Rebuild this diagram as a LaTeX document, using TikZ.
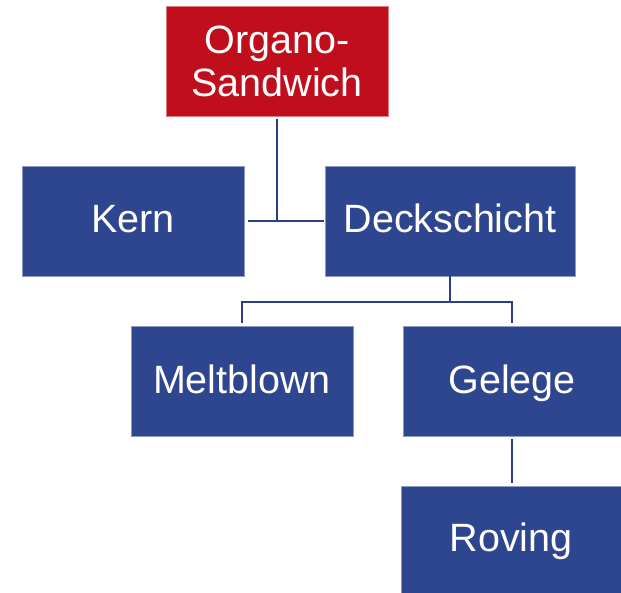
\documentclass[tikz,border=0pt]{standalone}
\usepackage{fontspec}
\setmainfont{Liberation Sans}
\usepackage{xcolor}
\usepackage{tikz}
\definecolor{SandRed}{HTML}{C00E1D}
\definecolor{SandBlue}{HTML}{2E4690}
\definecolor{LinkBlue}{HTML}{2A3F8A}
\tikzset{
  topbox/.style={draw=SandRed!55!white,line width=0.8pt,fill=SandRed,text=white,
    inner sep=0pt,outer sep=0pt,minimum height=110pt,align=center,
    font=\fontsize{39.5}{43}\selectfont},
  partbox/.style={draw=SandBlue!55!white,line width=0.8pt,fill=SandBlue,text=white,
    inner sep=0pt,outer sep=0pt,minimum height=110pt,align=center,
    text height=28pt,text depth=4pt,
    font=\fontsize{39.5}{43}\selectfont},
  link/.style={line width=2.6pt,draw=LinkBlue}
}
\begin{document}
\begin{tikzpicture}[x=1pt,y=-1pt]
  \useasboundingbox (0,0) rectangle (621,593);
  \node[topbox,minimum width=222pt] (sandwich) at (277,61) {Organo-\\Sandwich};
  \node[partbox,minimum width=222pt] (kern) at (133,221) {Kern};
  \node[partbox,minimum width=250pt] (deck) at (450,221) {Deckschicht};
  \node[partbox,minimum width=222pt] (melt) at (242,381) {Meltblown};
  \node[partbox,minimum width=218pt] (gelege) at (512,381) {Gelege};
  \node[partbox,minimum width=220pt,minimum height=107pt] (roving) at (511,539.5) {Roving};
  \coordinate (bus) at (450,302);
  \draw[link,shorten <=3pt] (sandwich.south) -- (sandwich.south |- kern.east);
  \draw[link,shorten <=4pt,shorten >=1pt] (kern.east) -- (deck.west);
  \draw[link] (deck.south) -- (bus);
  \draw[link,shorten <=3pt] (melt.north) |- (bus);
  \draw[link,shorten >=3pt] (bus) -| (gelege.north);
  \draw[link,shorten <=3pt,shorten >=3pt] (gelege.south) -- (gelege.south |- roving.north);
\end{tikzpicture}
\end{document}
